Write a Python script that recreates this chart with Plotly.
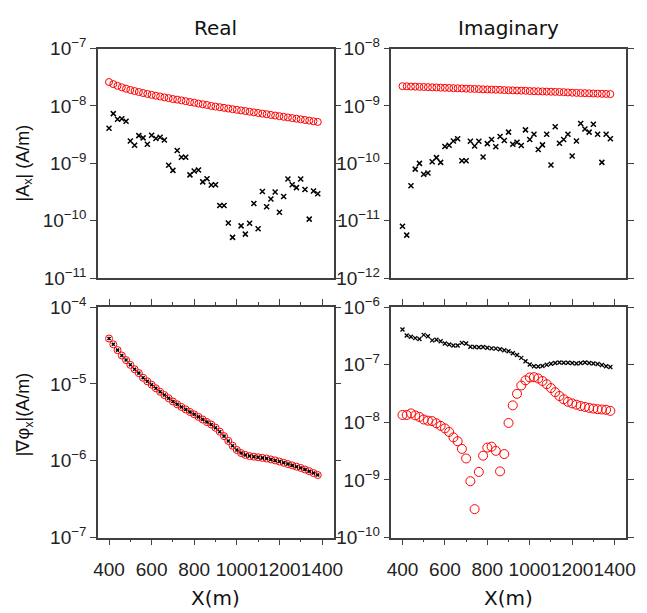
import plotly.graph_objects as go

# x positions (m)
x_pos = [400 + 20 * i for i in range(50)]

# Top-left: Real |Ax|
tl_red = [2.61e-8, 2.40e-8, 2.24e-8, 2.11e-8, 2.00e-8, 1.90e-8, 1.82e-8, 1.75e-8, 1.68e-8, 1.62e-8,
          1.56e-8, 1.51e-8, 1.46e-8, 1.41e-8, 1.37e-8, 1.32e-8, 1.29e-8, 1.25e-8, 1.21e-8, 1.17e-8,
          1.14e-8, 1.10e-8, 1.07e-8, 1.04e-8, 1.00e-8, 9.75e-9, 9.51e-9, 9.27e-9, 9.02e-9, 8.79e-9,
          8.57e-9, 8.36e-9, 8.15e-9, 7.94e-9, 7.74e-9, 7.55e-9, 7.36e-9, 7.18e-9, 6.98e-9, 6.81e-9,
          6.64e-9, 6.47e-9, 6.31e-9, 6.15e-9, 6.00e-9, 5.85e-9, 5.70e-9, 5.55e-9, 5.41e-9, 5.27e-9]
tl_black = [4.08e-9, 7.36e-9, 5.85e-9, 5.99e-9, 5.41e-9, 2.45e-9, 2.07e-9, 3.04e-9, 2.78e-9, 2.15e-9,
            3.08e-9, 2.71e-9, 2.86e-9, 2.55e-9, 9.27e-10, 7.55e-10, 1.67e-9, 1.28e-9, 1.28e-9, 6.31e-10,
            7.36e-10, 7.64e-10, 4.76e-10, 5.41e-10, 4.19e-10, 4.25e-10, 1.85e-10, 1.85e-10, 9.14e-11, 5.14e-11,
            None, 8.15e-11, 5.85e-11, 9.04e-11, 2.00e-10, 7.26e-11, 3.24e-10, 1.75e-10, 2.39e-10, 3.16e-10,
            1.41e-10, 2.64e-10, 5.35e-10, 4.25e-10, 3.78e-10, 5.35e-10, 3.50e-10, 1.07e-10, 3.29e-10, 2.96e-10]

# Top-right: Imaginary |Ax|
tr_red = [2.21e-9, 2.20e-9, 2.18e-9, 2.17e-9, 2.15e-9, 2.14e-9, 2.13e-9, 2.11e-9, 2.10e-9, 2.08e-9,
          2.07e-9, 2.06e-9, 2.04e-9, 2.03e-9, 2.02e-9, 2.00e-9, 1.99e-9, 1.98e-9, 1.97e-9, 1.95e-9,
          1.94e-9, 1.93e-9, 1.92e-9, 1.91e-9, 1.89e-9, 1.88e-9, 1.87e-9, 1.86e-9, 1.85e-9, 1.84e-9,
          1.82e-9, 1.81e-9, 1.80e-9, 1.79e-9, 1.78e-9, 1.77e-9, 1.76e-9, 1.75e-9, 1.74e-9, 1.72e-9,
          1.70e-9, 1.69e-9, 1.68e-9, 1.67e-9, 1.66e-9, 1.65e-9, 1.64e-9, 1.63e-9, 1.62e-9, 1.61e-9]
tr_black = [8.05e-12, 5.62e-12, 4.08e-11, 7.94e-11, 1.00e-10, 6.47e-11, 6.81e-11, 1.07e-10, 1.26e-10, 1.04e-10,
            1.97e-10, 2.07e-10, 2.45e-10, 2.68e-10, 1.11e-10, 1.11e-10, 2.42e-10, 2.00e-10, 2.42e-10, 1.29e-10,
            2.21e-10, 2.61e-10, 1.95e-10, 2.93e-10, 2.51e-10, 3.50e-10, 2.15e-10, 2.33e-10, 2.05e-10, 3.83e-10,
            2.61e-10, 3.21e-10, 1.75e-10, 2.10e-10, 3.21e-10, 9.38e-11, 4.35e-10, 2.24e-10, 2.61e-10, 3.21e-10,
            1.34e-10, 2.45e-10, 4.94e-10, 3.98e-10, 3.50e-10, 4.82e-10, 3.21e-10, 1.04e-10, 3.21e-10, 2.68e-10]

# Bottom-left: Real |grad phi_x|
bl_red = [3.89e-5, 3.27e-5, 2.75e-5, 2.34e-5, 2.04e-5, 1.77e-5, 1.55e-5, 1.38e-5, 1.20e-5, 1.08e-5,
          9.75e-6, 8.77e-6, 7.89e-6, 7.16e-6, 6.50e-6, 5.90e-6, 5.42e-6, 5.01e-6, 4.65e-6, 4.31e-6,
          4.02e-6, 3.72e-6, 3.44e-6, 3.19e-6, 2.96e-6, 2.69e-6, 2.39e-6, 2.09e-6, 1.81e-6, 1.57e-6,
          1.38e-6, 1.26e-6, 1.19e-6, 1.15e-6, 1.13e-6, 1.11e-6, 1.09e-6, 1.07e-6, 1.04e-6, 1.01e-6,
          9.77e-7, 9.40e-7, 9.05e-7, 8.71e-7, 8.38e-7, 8.06e-7, 7.68e-7, 7.32e-7, 6.91e-7, 6.52e-7]
bl_black = [3.89e-5, 3.27e-5, 2.75e-5, 2.34e-5, 2.04e-5, 1.77e-5, 1.55e-5, 1.38e-5, 1.20e-5, 1.08e-5,
            9.75e-6, 8.77e-6, 7.89e-6, 7.16e-6, 6.50e-6, 5.90e-6, 5.42e-6, 5.01e-6, 4.65e-6, 4.31e-6,
            4.02e-6, 3.72e-6, 3.44e-6, 3.19e-6, 2.96e-6, 2.69e-6, 2.39e-6, 2.09e-6, 1.81e-6, 1.57e-6,
            1.38e-6, 1.26e-6, 1.19e-6, 1.15e-6, 1.13e-6, 1.11e-6, 1.09e-6, 1.07e-6, 1.04e-6, 1.01e-6,
            9.77e-7, 9.40e-7, 9.05e-7, 8.71e-7, 8.38e-7, 8.06e-7, 7.68e-7, 7.32e-7, 6.91e-7, 6.52e-7]

# Bottom-right: Imaginary |grad phi_x|
br_red = [1.34e-8, 1.34e-8, 1.43e-8, 1.32e-8, 1.24e-8, 1.12e-8, 1.07e-8, 1.05e-8, 9.62e-9, 8.69e-9,
          7.84e-9, 6.81e-9, 5.48e-9, 4.70e-9, 3.46e-9, 2.36e-9, 9.51e-10, 3.12e-10, 1.38e-9, 2.64e-9,
          3.64e-9, 3.78e-9, 3.20e-9, 1.41e-9, 2.82e-9, 9.75e-9, 1.97e-8, 3.12e-8, 4.35e-8, 5.35e-8,
          6.00e-8, 6.07e-8, 5.77e-8, 5.21e-8, 4.58e-8, 3.93e-8, 3.33e-8, 2.86e-8, 2.51e-8, 2.27e-8,
          2.13e-8, 2.02e-8, 1.92e-8, 1.85e-8, 1.78e-8, 1.73e-8, 1.69e-8, 1.67e-8, 1.65e-8, 1.58e-8]
br_black = [4.08e-7, 3.20e-7, 3.04e-7, 2.89e-7, 2.78e-7, 3.29e-7, 3.12e-7, 2.64e-7, 2.71e-7, 2.55e-7,
            2.33e-7, 2.24e-7, 2.15e-7, 2.15e-7, 2.39e-7, 2.33e-7, 2.05e-7, 2.02e-7, 2.00e-7, 2.02e-7,
            1.97e-7, 1.92e-7, 1.90e-7, 1.85e-7, 1.78e-7, 1.71e-7, 1.58e-7, 1.47e-7, 1.31e-7, 1.15e-7,
            1.01e-7, 9.38e-8, 9.27e-8, 9.51e-8, 1.00e-7, 1.04e-7, 1.07e-7, 1.09e-7, 1.08e-7, 1.08e-7,
            1.07e-7, 1.05e-7, 1.07e-7, 1.09e-7, 1.07e-7, 1.05e-7, 1.03e-7, 9.87e-8, 9.38e-8, 9.14e-8]

x_tickvals = [400, 600, 800, 1000, 1200, 1400]
y_exps = {"y": [-11, -10, -9, -8, -7], "y2": [-12, -11, -10, -9, -8],
          "y3": [-7, -6, -5, -4], "y4": [-10, -9, -8, -7, -6]}
panel_titles = ["Real", "Imaginary"]
y_titles = ["|A<sub>x</sub>| (A/m)", "|∇φ<sub>x</sub>|(A/m)"]
x_title = "X(m)"

W, H = 647, 613
TICKFONT = "Liberation Sans, Arial, sans-serif"
FONT = "Liberation Sans, Arial, sans-serif"
TFONT = "DejaVu Sans, sans-serif"
LC = "#404040"

fig = go.Figure()


def add(xa, ya, red, black, rsize, xsize, xw):
    fig.add_trace(go.Scatter(x=x_pos, y=red, mode="markers", xaxis=xa, yaxis=ya,
                             marker=dict(symbol="circle-open", size=rsize, color="#ff0000",
                                         line=dict(width=1, color="#ff0000")),
                             showlegend=False))
    fig.add_trace(go.Scatter(x=x_pos, y=black, mode="markers", xaxis=xa, yaxis=ya,
                             marker=dict(symbol="x-thin-open", size=xsize, color="black",
                                         line=dict(width=xw, color="black")),
                             showlegend=False))


add("x", "y", tl_red, tl_black, 7, 5, 1.5)
add("x2", "y2", tr_red, tr_black, 7, 5, 1.5)
add("x3", "y3", bl_red, bl_black, 7, 3, 1.5)
add("x4", "y4", br_red, br_black, 9, 4, 1.3)

xd_left = [95 / W, 336 / W]
xd_right = [395 / W, 635 / W]
yd_top = [(H - 276) / H, (H - 37) / H]
yd_bot = [(H - 546) / H, (H - 306) / H]
xrange = [348, 1455]


def xax(domain, anchor, bottom):
    d = dict(domain=domain, anchor=anchor, range=xrange, showline=True, linecolor=LC,
             linewidth=1.5, mirror=True, showgrid=False, zeroline=False)
    if bottom:
        d.update(tickvals=x_tickvals, ticktext=[str(v) for v in x_tickvals], ticks="outside",
                 ticklen=6, tickwidth=1.2, tickcolor=LC, mirror="ticks", tickangle=0,
                 tickfont=dict(family=TICKFONT, size=19, color="#222"), ticklabelstandoff=8,
                 minor=dict(tickvals=[500, 700, 900, 1100, 1300], ticks="outside", ticklen=3,
                            tickwidth=1.2, tickcolor=LC, showgrid=False))
    else:
        d.update(ticks="", showticklabels=False)
    return d


def yax(domain, anchor, exps):
    return dict(domain=domain, anchor=anchor, type="log", range=[exps[0], exps[-1]],
                tickvals=[10.0 ** e for e in exps],
                ticktext=["10<sup>\u2212%d</sup>" % (-e) for e in exps],
                ticks="outside", ticklen=6, tickwidth=1.2, tickcolor=LC,
                showline=True, linecolor=LC, linewidth=1.5, mirror="ticks",
                showgrid=False, zeroline=False,
                tickfont=dict(family=TICKFONT, size=19, color="#222"))


fig.update_layout(
    width=W, height=H, margin=dict(l=0, r=0, t=0, b=0),
    paper_bgcolor="white", plot_bgcolor="white",
    xaxis=xax(xd_left, "y", False), yaxis=yax(yd_top, "x", y_exps["y"]),
    xaxis2=xax(xd_right, "y2", False), yaxis2=yax(yd_top, "x2", y_exps["y2"]),
    xaxis3=xax(xd_left, "y3", True), yaxis3=yax(yd_bot, "x3", y_exps["y3"]),
    xaxis4=xax(xd_right, "y4", True), yaxis4=yax(yd_bot, "x4", y_exps["y4"]),
)

ann = []
for t, xc in zip(panel_titles, [(95 + 336) / 2, (395 + 635) / 2]):
    ann.append(dict(text=t, x=xc / W, y=(H - 16) / H, xref="paper", yref="paper",
                    showarrow=False, xanchor="center", yanchor="middle",
                    font=dict(family=TFONT, size=20, color="#111")))
for xc in [(95 + 336) / 2, (395 + 635) / 2]:
    ann.append(dict(text=x_title, x=xc / W, y=(H - 609) / H, xref="paper", yref="paper",
                    showarrow=False, xanchor="center", yanchor="middle",
                    font=dict(family=TFONT, size=20, color="#111")))
for t, yc in zip(y_titles, [156, 418]):
    ann.append(dict(text=t, x=20 / W, y=(H - yc) / H, xref="paper", yref="paper",
                    showarrow=False, xanchor="center", yanchor="middle", textangle=-90,
                    font=dict(family=FONT, size=18, color="#111")))
fig.update_layout(annotations=ann)

fig.write_html("out.html")
